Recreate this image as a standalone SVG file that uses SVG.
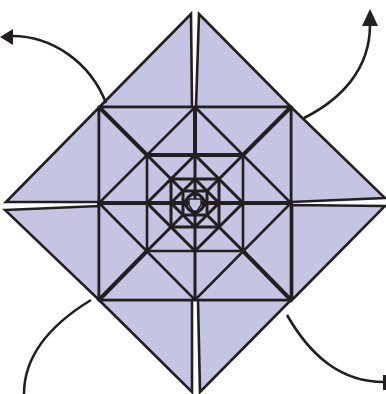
<svg xmlns="http://www.w3.org/2000/svg" width="386" height="394" viewBox="0 0 386 394">
<style>
.q{fill:#c5c4e2;stroke:#231f20;stroke-width:2.6;stroke-linejoin:miter}
.l{fill:none;stroke:#231f20;stroke-width:2.6}
.t{fill:none;stroke:#231f20;stroke-width:4}
.m{fill:none;stroke:#231f20;stroke-width:3}
.s{fill:none;stroke:#231f20;stroke-width:2.4}
.c{fill:none;stroke:#231f20;stroke-width:2.6}
.a{fill:#231f20}
</style>
<g id="quadrants">
<polygon class="q" points="191,14 192,107 99,107 99,202 6,202"/>
<polygon class="q" points="199,14 291,107 196,107"/>
<polygon class="q" points="291,107 385,198 291,202"/>
<polygon class="q" points="5,210 99,206 99,300"/>
<polygon class="q" points="385,206 292,205 292,300"/>
<polygon class="q" points="99,300 192,300 192,392"/>
<polygon class="q" points="198,300 291,300 200,392"/>
<rect class="q" x="99" y="107" width="192" height="193"/>
</g>
<g id="pattern">
<path class="t" d="M99,107L147,155M291,107L243,155M99,300L147,251M291,300L243,251"/>
<path class="l" d="M195,107L291,203L195,300L99,203Z"/>
<path class="t" d="M97,203H293M195,107V155"/>
<path class="m" d="M195,155V300"/>
<path class="t" d="M147,155H243"/>
<path class="l" d="M147,155V251H243V155"/>
<path class="m" d="M195,155L243,203L195,251L147,203Z"/>
<path class="m" d="M147,155L171,179M243,155L219,179M147,251L171,227M243,251L219,227"/>
<path class="m" d="M171,179H219V227H171Z"/>
<path class="m" d="M195,179L219,203L195,227L171,203Z"/>
<path class="m" d="M171,179L183,191M219,179L207,191M171,227L183,215M219,227L207,215"/>
<path class="m" d="M183,191H207V215H183Z"/>
<path class="s" d="M195,191L207,203L195,215L183,203Z"/>
<circle class="m" cx="195" cy="203" r="9"/>
<path d="M189,199H201V205L197,211H193L189,205Z" fill="#c5c4e2" stroke="#231f20" stroke-width="1.4"/>
</g>
<g id="connectors">
<path class="c" d="M106,103C90,62 52,36 12,36"/>
<polygon class="a" points="0,37 13,29 13,45"/>
<path class="c" d="M304,118C340,100 370,70 370,25"/>
<polygon class="a" points="370,9 378,26 362,26"/>
<path class="c" d="M91,300C50,325 24,355 24,394"/>
<path class="c" d="M287,315C310,355 340,382 384,382"/>
<rect class="a" x="383" y="375" width="3" height="15"/>
</g>
</svg>
